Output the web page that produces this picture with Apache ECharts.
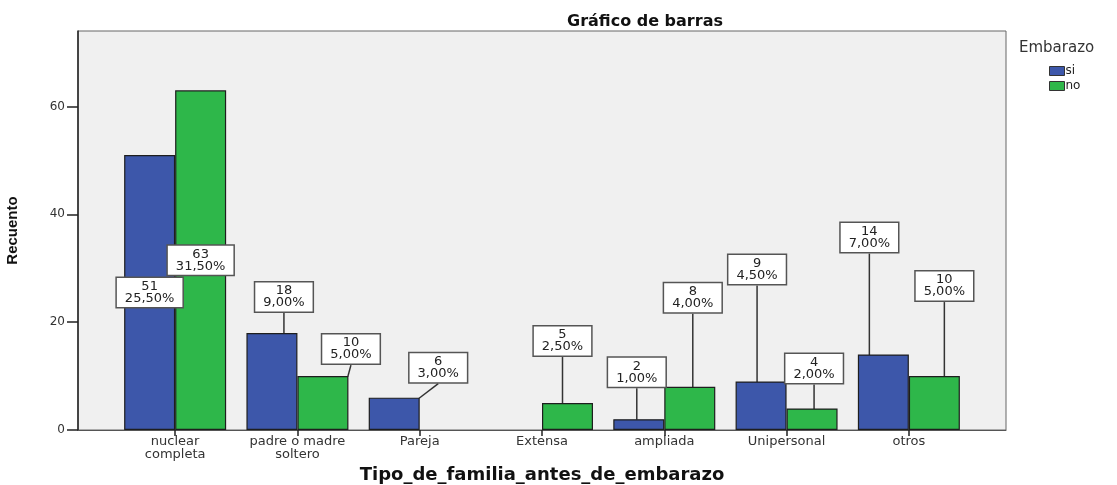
<!DOCTYPE html>
<html>
<head>
<meta charset="utf-8">
<script src="https://cdn.jsdelivr.net/npm/echarts@6/dist/echarts.min.js"></script>
<style>
  html, body { margin: 0; padding: 0; background: #fff; }
  #main { width: 1117px; height: 485px; }
</style>
</head>
<body>
<div id="main"></div>
<script>
// datos
var categories = ['nuclear\ncompleta', 'padre o madre\nsoltero', 'Pareja', 'Extensa', 'ampliada', 'Unipersonal', 'otros'];
var siValues = [51, 18, 6, 0, 2, 9, 14];
var noValues = [63, 10, 0, 5, 8, 4, 10];
var yTicks = [0, 20, 40, 60];
var total = 200;

// desplazamiento de las etiquetas (dx respecto al centro de la barra, altura sobre la barra)
var siShift = [null, [12, 36], [44, 30], null, [-2, 47], [-4, 112], [-14, 117]];
var noShift = [null, [28, 27], null, [-5, 62], [3, 89], [2, 40], [10, 90]];

var FONT = 'DejaVu Sans';

function pct(v) {
	return (v / total * 100).toFixed(2).replace('.', ',') + '%';
}

function buildData(values) {
	return values.map(function (v, i) {
		if (!v) return '-';
		return {
			value: v,
			labelLine: { show: i !== 0 }
		};
	});
}

function makeLayout(shift) {
	return function (p) {
		var s = shift[p.dataIndex];
		if (!s) return {};
		return {
			x: p.rect.x + p.rect.width / 2 + s[0],
			y: p.rect.y - s[1],
			align: 'center',
			verticalAlign: 'middle'
		};
	};
}

var labelStyle = {
	show: true,
	position: 'inside',
	formatter: function (p) { return p.value + '\n' + pct(p.value); },
	fontFamily: FONT,
	fontSize: 13,
	lineHeight: 12,
	color: '#222',
	backgroundColor: '#fff',
	borderColor: '#555',
	borderWidth: 1.5,
	padding: [3, 8, 2, 8],
	align: 'center'
};

var myChart = echarts.init(document.getElementById('main'), null, { renderer: 'canvas' });

myChart.setOption({
	animation: false,
	backgroundColor: '#fff',
	title: [{
		text: 'Gráfico de barras',
		left: 562,
		top: 9,
		textStyle: { fontFamily: FONT, fontSize: 16, fontWeight: 'bold', color: '#111' }
	}, {
		text: 'Embarazo',
		left: 1014,
		top: 36,
		textStyle: { fontFamily: FONT, fontSize: 15, fontWeight: 'normal', color: '#333' }
	}],
	legend: {
		orient: 'vertical',
		left: 1044,
		top: 60,
		icon: 'rect',
		itemWidth: 15,
		itemHeight: 9,
		itemGap: 3,
		itemStyle: { borderColor: '#333', borderWidth: 1 },
		textStyle: { fontFamily: FONT, fontSize: 12, color: '#222', padding: [0, 0, 0, -4] },
		data: ['si', 'no']
	},
	grid: [{
		left: 78, top: 31, width: 928, height: 399,
		outerBoundsMode: 'none',
		show: true, backgroundColor: '#f0f0f0', borderColor: '#666', borderWidth: 1
	}, {
		left: 114, top: 31, width: 856, height: 399,
		outerBoundsMode: 'none'
	}],
	xAxis: [{
		gridIndex: 0,
		type: 'value',
		min: 0, max: 1,
		name: 'Tipo_de_familia_antes_de_embarazo',
		nameLocation: 'middle',
		nameGap: 36,
		nameTextStyle: { fontFamily: FONT, fontSize: 18, fontWeight: 'bold', color: '#111' },
		axisLine: { show: true, lineStyle: { color: '#555', width: 1 } },
		axisTick: { show: false },
		axisLabel: { show: false },
		splitLine: { show: false }
	}, {
		gridIndex: 1,
		type: 'category',
		data: categories,
		axisLine: { show: false },
		axisTick: { show: true, alignWithLabel: true, length: 6, lineStyle: { color: '#222', width: 1.5 } },
		axisLabel: { interval: 0, fontFamily: FONT, fontSize: 13, lineHeight: 13, color: '#333', margin: 5 }
	}],
	yAxis: [{
		gridIndex: 0,
		type: 'value',
		min: 0, max: 74,
		name: 'Recuento',
		nameLocation: 'middle',
		nameGap: 58,
		nameTextStyle: { fontFamily: 'Liberation Sans', fontSize: 15, fontWeight: 'bold', color: '#111' },
		axisLine: { show: true, lineStyle: { color: '#222', width: 1.5 } },
		axisTick: { show: true, customValues: yTicks, length: 11, lineStyle: { color: '#222', width: 1.5 } },
		axisLabel: { customValues: yTicks, fontFamily: FONT, fontSize: 12, color: '#333', margin: 13 },
		splitLine: { show: false }
	}, {
		gridIndex: 1,
		type: 'value',
		min: 0, max: 74,
		show: false
	}],
	series: [{
		name: 'si',
		type: 'bar',
		xAxisIndex: 1, yAxisIndex: 1,
		barWidth: 51,
		barGap: '0%',
		data: buildData(siValues),
		itemStyle: { color: '#3d57aa', borderColor: '#1e1e1e', borderWidth: 1.2 },
		label: labelStyle,
		labelLine: { show: true, lineStyle: { color: '#333', width: 1.5 } },
		labelLayout: makeLayout(siShift)
	}, {
		name: 'no',
		type: 'bar',
		xAxisIndex: 1, yAxisIndex: 1,
		barWidth: 51,
		barGap: '0%',
		data: buildData(noValues),
		itemStyle: { color: '#2eb74a', borderColor: '#1e1e1e', borderWidth: 1.2 },
		label: labelStyle,
		labelLine: { show: true, lineStyle: { color: '#333', width: 1.5 } },
		labelLayout: makeLayout(noShift)
	}]
});
</script>
</body>
</html>
